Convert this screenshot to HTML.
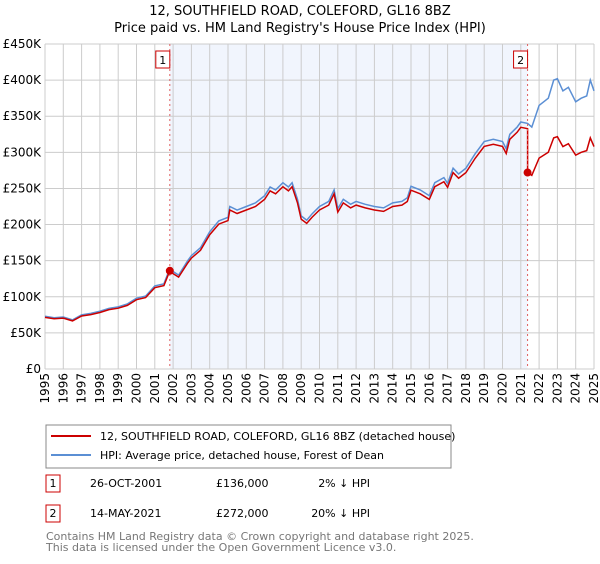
<!DOCTYPE html>
<html><head><meta charset="utf-8"><style>
body{margin:0;background:#fff;font-family:"DejaVu Sans","Liberation Sans",sans-serif;}
svg text{font-family:"DejaVu Sans","Liberation Sans",sans-serif;}
</style></head><body>
<svg id="c" width="600" height="560" xmlns="http://www.w3.org/2000/svg">
<text x="300" y="15" text-anchor="middle" font-size="13">12, SOUTHFIELD ROAD, COLEFORD, GL16 8BZ</text>
<text x="300" y="32" text-anchor="middle" font-size="13">Price paid vs. HM Land Registry's House Price Index (HPI)</text>
<g id="plot"></g>
<rect x="46" y="425" width="405" height="43" fill="#fff" stroke="#888"/>
<line x1="51" y1="436" x2="91" y2="436" stroke="#cc0000" stroke-width="2"/>
<text x="100" y="440" font-size="11">12, SOUTHFIELD ROAD, COLEFORD, GL16 8BZ (detached house)</text>
<line x1="51" y1="455" x2="91" y2="455" stroke="#5b8fd4" stroke-width="2"/>
<text x="100" y="459" font-size="11">HPI: Average price, detached house, Forest of Dean</text>
<g font-size="11">
<rect x="46" y="475" width="14" height="17" fill="#fff" stroke="#cc0000"/><text x="53" y="487" text-anchor="middle">1</text>
<text x="90" y="487">26-OCT-2001</text><text x="216" y="487">£136,000</text><text x="370" y="487" text-anchor="end">2% ↓ HPI</text></g>
<g font-size="11">
<rect x="46" y="505" width="14" height="17" fill="#fff" stroke="#cc0000"/><text x="53" y="517" text-anchor="middle">2</text>
<text x="90" y="517">14-MAY-2021</text><text x="216" y="517">£272,000</text><text x="370" y="517" text-anchor="end">20% ↓ HPI</text></g>
<text x="46" y="540" font-size="11" fill="#777">Contains HM Land Registry data © Crown copyright and database right 2025.</text>
<text x="46" y="551" font-size="11" fill="#777">This data is licensed under the Open Government Licence v3.0.</text>
</svg>
<script>
const hpiYears=[1995,1995.5,1996,1996.5,1997,1997.5,1998,1998.5,1999,1999.5,2000,2000.5,2001,2001.5,2001.82,2002,2002.3,2002.8,2003,2003.5,2004,2004.5,2005,2005.1,2005.5,2006,2006.5,2007,2007.3,2007.6,2008,2008.3,2008.5,2008.8,2009,2009.3,2009.6,2010,2010.5,2010.8,2011,2011.3,2011.7,2012,2012.5,2013,2013.5,2014,2014.5,2014.8,2015,2015.5,2016,2016.3,2016.8,2017,2017.3,2017.6,2018,2018.5,2019,2019.5,2020,2020.2,2020.4,2020.8,2021,2021.37,2021.6,2022,2022.5,2022.8,2023,2023.3,2023.6,2024,2024.3,2024.6,2024.8,2025];
const hpiValues=[73,71,72,68,75,77,80,84,86,90,98,101,115,118,139,135,130,150,157,168,190,205,210,225,220,225,230,240,252,248,258,252,258,235,212,206,215,225,232,248,222,235,228,232,228,225,223,230,232,237,253,248,240,258,265,257,278,270,278,298,315,318,315,305,325,335,342,340,335,365,375,400,402,385,390,370,375,378,400,385];
const saleYears=[2001.82,2021.37];
const saleValues=[136,272];
const saleLabels=["1","2"];
const yTicks=[0,50,100,150,200,250,300,350,400,450];
const xTicks=[1995,1996,1997,1998,1999,2000,2001,2002,2003,2004,2005,2006,2007,2008,2009,2010,2011,2012,2013,2014,2015,2016,2017,2018,2019,2020,2021,2022,2023,2024,2025];
const L=45,R=594,T=44,B=369;
const X=y=>L+(y-1995)/30*(R-L);
const Y=v=>B-v/450*(B-T);
const NS="http://www.w3.org/2000/svg";
const g=document.getElementById('plot');
function mk(t,a){const e=document.createElementNS(NS,t);for(const k in a)e.setAttribute(k,a[k]);g.appendChild(e);return e;}
let e=mk('rect',{x:X(saleYears[0]),y:T,width:X(saleYears[1])-X(saleYears[0]),height:B-T,fill:'#eef3fc',opacity:0.8});


xTicks.forEach(t=>{let l=mk('line',{x1:X(t),x2:X(t),y1:T,y2:B,stroke:'#ccc'});


const xx=X(t)+4,yy=B+4;
let tx=mk('text',{x:xx,y:yy,'text-anchor':'end','font-size':12,transform:'rotate(-90 '+xx+' '+yy+')'});tx.textContent=t;

});
yTicks.forEach(t=>{let l=mk('line',{x1:L,x2:R,y1:Y(t),y2:Y(t),stroke:'#ccc'});


let tx=mk('text',{x:L-4,y:Y(t)+4,'text-anchor':'end','font-size':12});tx.textContent='£'+(t?t+'K':'0');

});
function hpiAt(y){for(let i=1;i<hpiYears.length;i++){if(y<=hpiYears[i]){const f=(y-hpiYears[i-1])/(hpiYears[i]-hpiYears[i-1]);return hpiValues[i-1]+f*(hpiValues[i]-hpiValues[i-1]);}}return hpiValues[hpiValues.length-1];}
const r1=saleValues[0]/hpiAt(saleYears[0]),r2=saleValues[1]/hpiAt(saleYears[1]);
let hp=hpiYears.map((y,i)=>X(y).toFixed(1)+','+Y(hpiValues[i]).toFixed(1)).join(' ');
e=mk('polyline',{points:hp,fill:'none',stroke:'#5b8fd4','stroke-width':1.5});


let rp=hpiYears.map((y,i)=>{let r=y<saleYears[1]?r1:r2;return X(y).toFixed(1)+','+Y(hpiValues[i]*r).toFixed(1);});
const idx=hpiYears.findIndex(y=>y>=saleYears[1]);
rp.splice(idx,0,X(saleYears[1]).toFixed(1)+','+Y(hpiAt(saleYears[1])*r1).toFixed(1),X(saleYears[1]).toFixed(1)+','+Y(saleValues[1]).toFixed(1));
e=mk('polyline',{points:rp.join(' '),fill:'none',stroke:'#cc0000','stroke-width':1.5});


saleYears.forEach((y,i)=>{
let l=mk('line',{x1:X(y),x2:X(y),y1:T,y2:B,stroke:'#e06060','stroke-dasharray':'2,3'});


let c=mk('circle',{cx:X(y),cy:Y(saleValues[i]),r:4,fill:'#cc0000'});


let b=mk('rect',{x:X(y)-14,y:51,width:14,height:17,fill:'#fff',stroke:'#cc0000'});


let t=mk('text',{x:X(y)-7,y:64,'text-anchor':'middle','font-size':11});t.textContent=saleLabels[i];


});
</script>
</body></html>
